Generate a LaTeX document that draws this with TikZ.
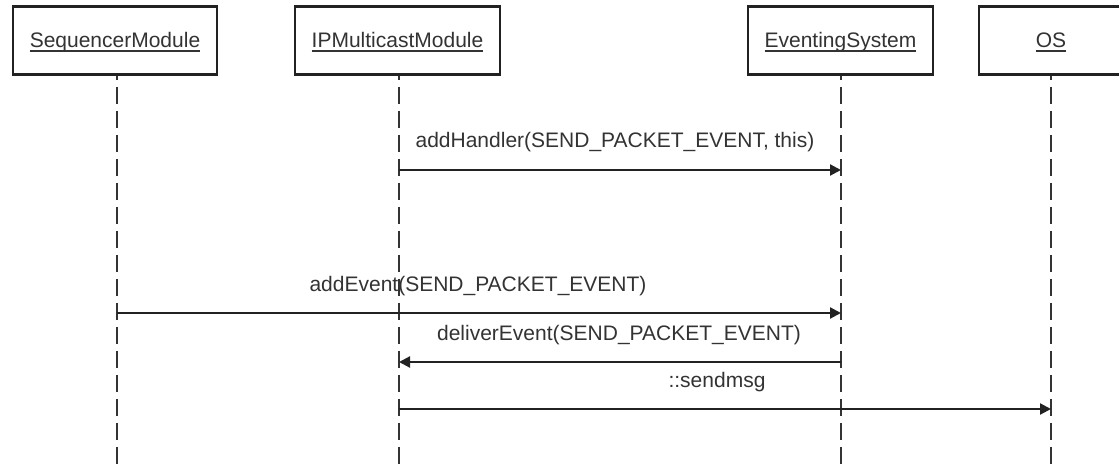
\documentclass[tikz,border=0pt]{standalone}
\usepackage{fontspec}
\setmainfont{Liberation Sans}
\usetikzlibrary{arrows.meta}
\definecolor{inkline}{HTML}{222222}
\definecolor{inktext}{HTML}{333333}
\definecolor{lifeink}{HTML}{333333}
% name of a participant, underlined just below the baseline
\newcommand\objlabel[1]{\setbox0\hbox{#1}\rlap{\rule[-3.6pt]{\wd0}{1.6pt}}\box0}
\begin{document}
\begin{tikzpicture}[x=1pt,y=-1pt,
  objbox/.style={draw=inkline, line width=2.2pt, fill=white, minimum height=68pt, inner sep=0pt},
  objname/.style={anchor=base, text=inktext, inner sep=0pt, font=\fontsize{21}{25}\selectfont},
  lifeline/.style={draw=lifeink, line width=2.2pt, dash pattern=on 17pt off 7pt, dash phase=13pt},
  msg/.style={draw=inkline, line width=2.2pt, -{Triangle[length=11pt,width=11pt]}},
  msglabel/.style={anchor=base, text=inktext, inner sep=0pt, font=\fontsize{21}{25}\selectfont}]
  \useasboundingbox[fill=white] (0,0) rectangle (1119,465);

  % participants
  \node[objbox, minimum width=204pt] (seq) at (115,40.5) {};
  \node[objbox, minimum width=205pt] (ipm) at (397.5,40.5) {};
  \node[objbox, minimum width=185pt] (evs) at (840.5,40.5) {};
  \node[objbox, minimum width=144pt] (os)  at (1051,40.5) {};
  \node[objname] (seqname) at (seq.center |- 0,48) {\objlabel{SequencerModule}};
  \node[objname] (ipmname) at (ipm.center |- 0,48) {\objlabel{IPMulticastModule}};
  \node[objname] (evsname) at (evs.center |- 0,48) {\objlabel{EventingSystem}};
  \node[objname] (osname)  at (os.center  |- 0,48) {\objlabel{OS}};

  % lifeline ends
  \coordinate (seqend) at (117,466);
  \coordinate (ipmend) at (399,466);
  \coordinate (evsend) at (841,466);
  \coordinate (osend)  at (1051,466);
  \draw[lifeline] (seqend |- seq.south) -- (seqend);
  \draw[lifeline] (ipmend |- ipm.south) -- (ipmend);
  \draw[lifeline] (evsend |- evs.south) -- (evsend);
  \draw[lifeline] (osend |- os.south) -- (osend);

  % message end points on the lifelines
  \coordinate (m1a) at (ipmend |- 0,170);
  \coordinate (m1b) at (evsend |- 0,170);
  \coordinate (m2a) at (seqend |- 0,313);
  \coordinate (m2b) at (evsend |- 0,313);
  \coordinate (m3a) at (evsend |- 0,362);
  \coordinate (m3b) at (ipmend |- 0,362);
  \coordinate (m4a) at (ipmend |- 0,409);
  \coordinate (m4b) at (osend  |- 0,409);

  % messages
  \draw[msg] (m1a) -- (m1b);
  \node[msglabel] (l1) at (615,148) {addHandler(SEND\_PACKET\_EVENT, this)};
  \draw[msg] (m2a) -- (m2b);
  \node[msglabel] (l2) at (478,291) {addEvent(SEND\_PACKET\_EVENT)};
  \draw[msg] (m3a) -- (m3b);
  \node[msglabel] (l3) at (619,340) {deliverEvent(SEND\_PACKET\_EVENT)};
  \draw[msg] (m4a) -- (m4b);
  \node[msglabel] (l4) at (717,387) {::sendmsg};
\end{tikzpicture}
\end{document}
